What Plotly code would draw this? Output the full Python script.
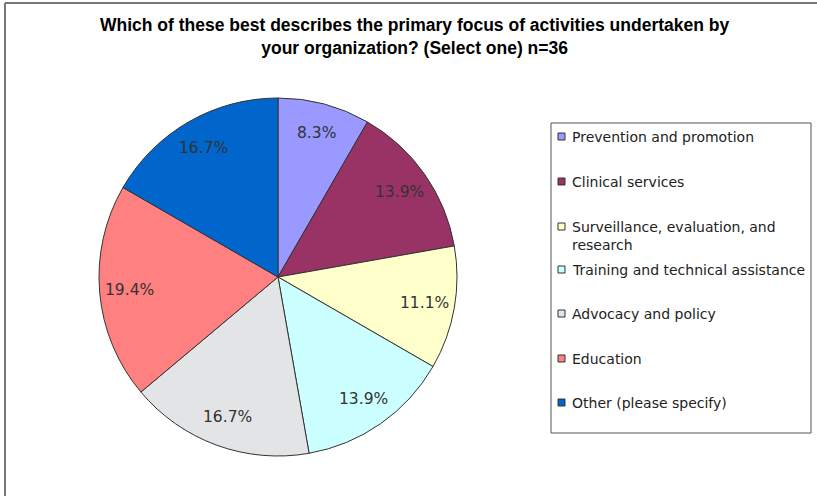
import math
import plotly.graph_objects as go

categories = [
    "Prevention and promotion",
    "Clinical services",
    "Surveillance, evaluation, and<br>research",
    "Training and technical assistance",
    "Advocacy and policy",
    "Education",
    "Other (please specify)",
]
counts = [3, 5, 4, 5, 6, 7, 6]
colors = ["#9999FF", "#993366", "#FFFFCC", "#CCFFFF", "#E3E4E6", "#FF8080", "#0066CC"]
title_lines = [
    "Which of these best describes the primary focus of activities undertaken by",
    "your organization? (Select one) n=36",
]

W, H = 817, 496


def px_x(x):
    return x / W


def px_y(y):
    return 1 - y / H


CX, CY, R = 278, 277, 179

fig = go.Figure()
fig.add_trace(go.Pie(
    labels=categories,
    values=counts,
    marker=dict(colors=colors, line=dict(color="#333333", width=1)),
    sort=False,
    direction="clockwise",
    rotation=0,
    textinfo="none",
    showlegend=False,
    hoverinfo="label+value+percent",
    domain=dict(x=[px_x(CX - R), px_x(CX + R)], y=[px_y(CY + R), px_y(CY - R)]),
))

shapes = []
annotations = []

# percentage labels placed at the slice mid-angle, derived from the values
total = sum(counts)
cum = 0
for v in counts:
    mid = (cum + v / 2) / total * 2 * math.pi
    cum += v
    rr = 0.83 * R
    lx = CX + rr * math.sin(mid)
    ly = CY - rr * math.cos(mid)
    annotations.append(dict(
        text=f"{v / total * 100:.1f}%", xref="paper", yref="paper",
        x=px_x(lx), y=px_y(ly), xanchor="center", yanchor="middle",
        showarrow=False,
        font=dict(family="DejaVu Sans", size=15.5, color="#333333"),
    ))

# outer chart frame (top and left visible)
shapes.append(dict(type="line", xref="paper", yref="paper",
                   x0=px_x(5), x1=px_x(817), y0=px_y(3), y1=px_y(3),
                   line=dict(color="#777777", width=2)))
shapes.append(dict(type="line", xref="paper", yref="paper",
                   x0=px_x(5), x1=px_x(5), y0=px_y(3), y1=px_y(496),
                   line=dict(color="#777777", width=2)))

# title
annotations.append(dict(
    text="<b>" + "<br>".join(title_lines) + "</b>", xref="paper", yref="paper",
    x=px_x(414), y=px_y(36), xanchor="center", yanchor="middle",
    showarrow=False, align="center",
    font=dict(family="Liberation Sans", size=17.5, color="#000000"),
))

# legend box
shapes.append(dict(type="rect", xref="paper", yref="paper",
                   x0=px_x(551), x1=px_x(811), y0=px_y(433), y1=px_y(123),
                   line=dict(color="#555555", width=1), fillcolor="white"))
row_y = [136, 181, 226, 269, 313, 358, 402]
for i, (cat, col) in enumerate(zip(categories, colors)):
    y = row_y[i]
    shapes.append(dict(type="rect", xref="paper", yref="paper",
                       x0=px_x(558), x1=px_x(565), y0=px_y(y + 4), y1=px_y(y - 3),
                       line=dict(color="#333333", width=1), fillcolor=col))
    annotations.append(dict(
        text=cat, xref="paper", yref="paper",
        x=px_x(570), y=px_y(y - 9), xanchor="left", yanchor="top",
        showarrow=False, align="left",
        font=dict(family="DejaVu Sans", size=14, color="#222222"),
    ))

fig.update_layout(
    width=W, height=H,
    margin=dict(l=0, r=0, t=0, b=0),
    paper_bgcolor="white",
    plot_bgcolor="white",
    shapes=shapes,
    annotations=annotations,
)

fig.write_html(
    "out.html",
    config={"displayModeBar": False},
    post_script="document.body.style.margin='0';document.body.style.overflow='hidden';",
)
